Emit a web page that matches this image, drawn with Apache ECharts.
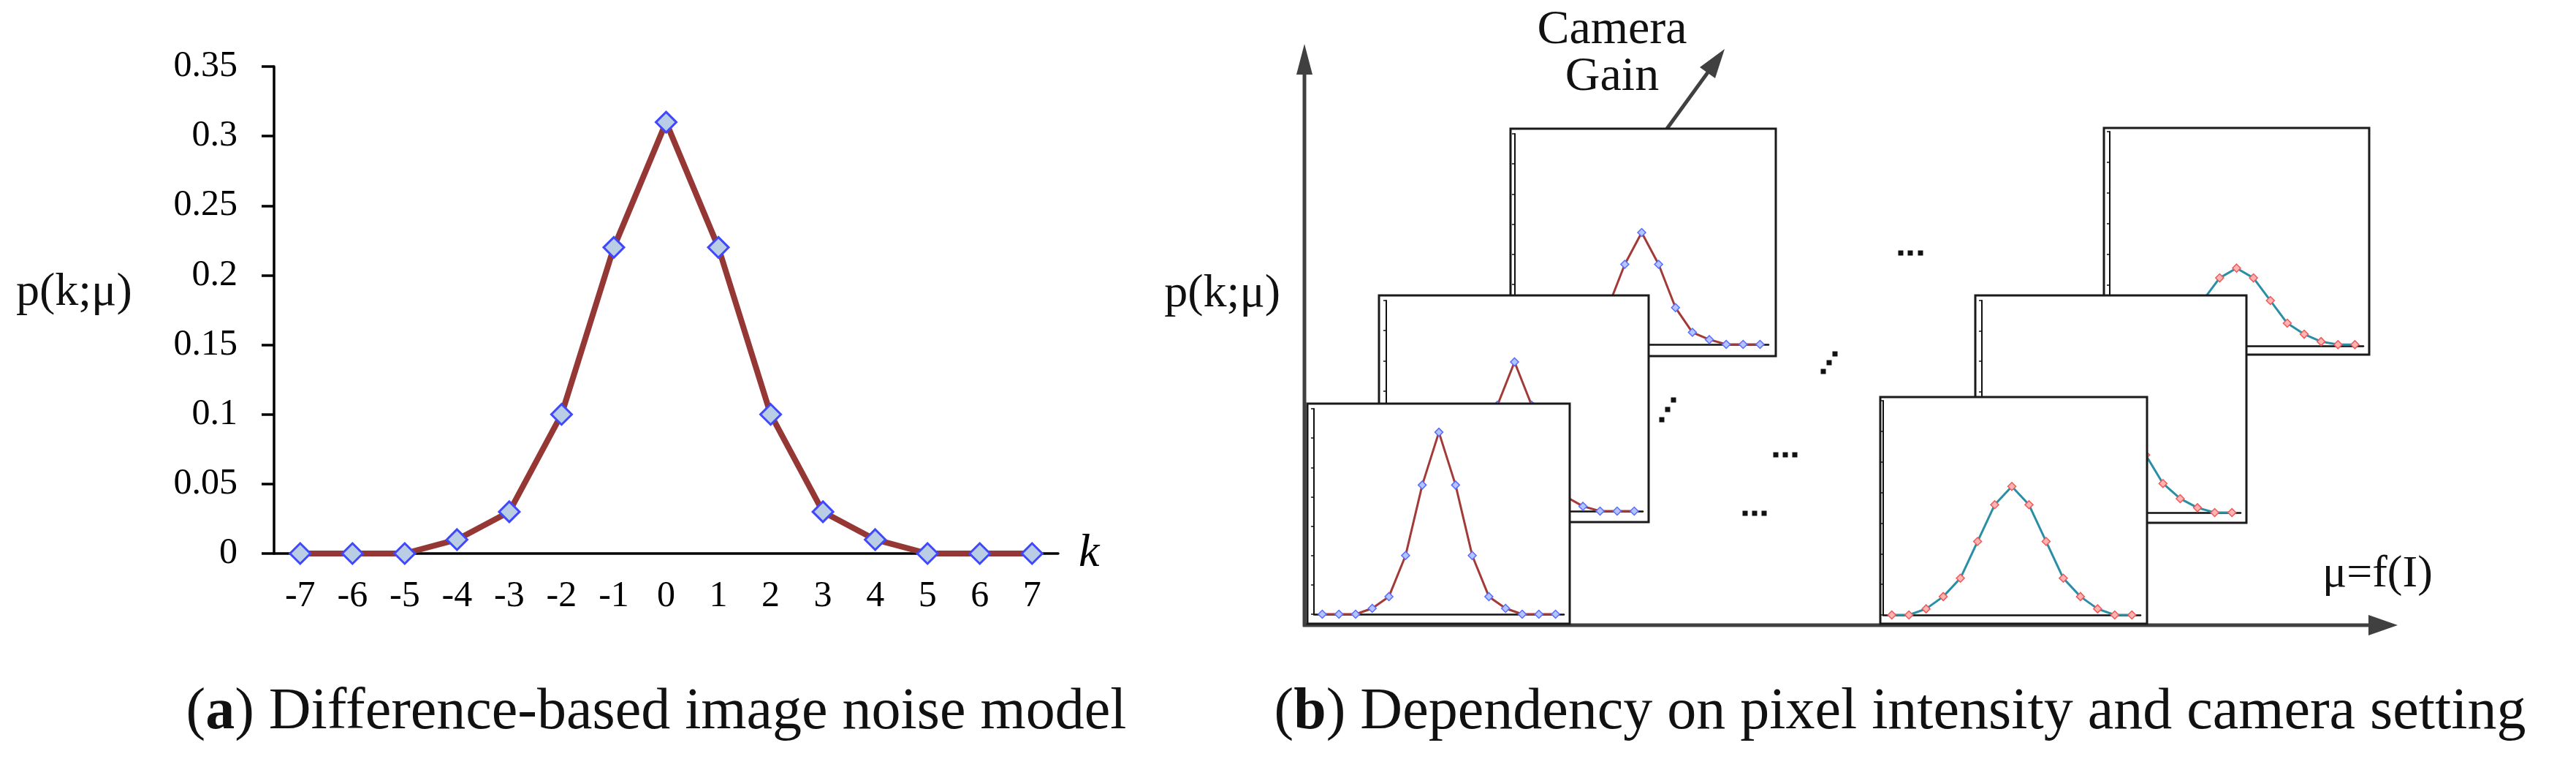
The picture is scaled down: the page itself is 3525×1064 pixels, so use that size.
<!DOCTYPE html>
<html><head><meta charset="utf-8">
<script src="https://cdn.jsdelivr.net/npm/echarts@6/dist/echarts.min.js"></script>
<style>html,body{margin:0;padding:0;background:#fff}#c{width:3525px;height:1064px}</style>
</head><body><div id="c"></div>
<script>
// ---------- data ----------
const kCategories = ['-7','-6','-5','-4','-3','-2','-1','0','1','2','3','4','5','6','7'];
const yTickLabels = ['0','0.05','0.1','0.15','0.2','0.25','0.3','0.35'];
// panel (a)
const pMain = [0,0,0,0.01,0.03,0.1,0.22,0.31,0.22,0.1,0.03,0.01,0,0,0];
// panel (b) – low intensity stack (red curves), gain 1 (front) .. gain 3 (back)
const pLowGain1 = [0,0,0,0.01,0.03,0.1,0.22,0.31,0.22,0.1,0.03,0.01,0,0,0];
const pLowGain2 = [0,0,0,0.008,0.024,0.08,0.176,0.248,0.176,0.08,0.024,0.008,0,0,0];
const pLowGain3 = [0,0,0,0.008,0.02,0.061,0.133,0.186,0.133,0.061,0.02,0.008,0,0,0];
// panel (b) – high intensity stack (teal curves)
const pHighGain1 = [0,0,0.01,0.03,0.06,0.12,0.18,0.21,0.18,0.12,0.06,0.03,0.01,0,0];
const pHighGain2 = [0,0,0.008,0.023,0.048,0.095,0.14,0.165,0.14,0.095,0.048,0.023,0.008,0,0];
const pHighGain3 = [0.002,0.002,0.007,0.019,0.037,0.074,0.111,0.127,0.111,0.074,0.037,0.019,0.007,0.002,0.002];

// ---------- layout / style ----------
const FONT = 'Liberation Serif';
const RED = {line:'#a33a38', fill:'#b4c4ff', border:'#5a6cff'};
const TEAL = {line:'#2a8ea4', fill:'#ffb4b4', border:'#ee5a5a'};
const minis = [
  {data:pLowGain3,  frame:[2067,176,2430,487], plot:[2073,183,2420,471], col:RED,  layer:1},
  {data:pHighGain3, frame:[2879,175,3242,485], plot:[2887,180,3234,473], col:TEAL, layer:1},
  {data:pLowGain2,  frame:[1887,404,2256,714], plot:[1897,411,2248,699], col:RED,  layer:2},
  {data:pHighGain2, frame:[2703,404,3074,715], plot:[2712,411,3066,701], col:TEAL, layer:2},
  {data:pLowGain1,  frame:[1789,552,2148,853], plot:[1798,559,2140,840], col:RED,  layer:3},
  {data:pHighGain1, frame:[2573,543,2938,853], plot:[2577,548,2929,841], col:TEAL, layer:3}
];

const grid = [{left:375, top:91, width:1073, height:666}];
const xAxis = [{
  type:'category', gridIndex:0, data:kCategories, boundaryGap:true,
  axisLine:{lineStyle:{color:'#000', width:3.5}},
  axisTick:{length:16, lineStyle:{color:'#000', width:3.5}},
  axisLabel:{margin:34, interval:0, fontFamily:FONT, fontSize:50, color:'#000'},
  name:'k', nameLocation:'end', nameGap:28,
  nameTextStyle:{fontFamily:FONT, fontStyle:'italic', fontSize:64, color:'#000', verticalAlign:'middle', align:'left'}
}];
const yAxis = [{
  type:'value', gridIndex:0, min:0, max:0.35, interval:0.05,
  splitLine:{show:false},
  axisLine:{show:true, lineStyle:{color:'#000', width:3.5}},
  axisTick:{show:true, length:17, lineStyle:{color:'#000', width:3.5}},
  axisLabel:{margin:50, fontFamily:FONT, fontSize:50, color:'#000',
    formatter:(v)=>yTickLabels[Math.round(v/0.05)]}
}];
const series = [{
  type:'line', xAxisIndex:0, yAxisIndex:0, data:pMain, clip:false,
  symbol:'diamond', symbolSize:28,
  lineStyle:{color:'#953735', width:8},
  itemStyle:{color:'#b9cde5', borderColor:'#3f48ff', borderWidth:3}
}];
const graphic = [];

// big axes of panel (b)
const AX = '#404040';
graphic.push({type:'line', z:5, shape:{x1:1785,y1:857,x2:1785,y2:98}, style:{stroke:AX, lineWidth:5}});
graphic.push({type:'polygon', z:5, shape:{points:[[1785,60],[1774,102],[1796,102]]}, style:{fill:AX}});
graphic.push({type:'line', z:5, shape:{x1:1783,y1:855,x2:3243,y2:855}, style:{stroke:AX, lineWidth:5}});
graphic.push({type:'polygon', z:5, shape:{points:[[3281,855],[3241,841],[3241,869]]}, style:{fill:AX}});
// camera gain arrow
graphic.push({type:'line', z:5, shape:{x1:2281,y1:176,x2:2337,y2:99}, style:{stroke:AX, lineWidth:5}});
graphic.push({type:'polygon', z:5, shape:{points:[[2360,67],[2347,107],[2326,92]]}, style:{fill:AX}});

minis.forEach((m, i) => {
  const gi = i + 1, base = m.layer * 10;
  const [px1,py1,px2,py2] = m.plot, [fx1,fy1,fx2,fy2] = m.frame;
  grid.push({left:px1, top:py1, width:px2-px1, height:py2-py1});
  graphic.push({type:'rect', z:base, shape:{x:fx1,y:fy1,width:fx2-fx1,height:fy2-fy1},
    style:{fill:'#fff', stroke:'#1a1a1a', lineWidth:3}});
  xAxis.push({type:'category', gridIndex:gi, data:kCategories, boundaryGap:true, z:base+1,
    axisLine:{lineStyle:{color:'#111', width:2.5}},
    axisTick:{length:5, lineStyle:{color:'#111', width:1.5}},
    axisLabel:{show:false}});
  yAxis.push({type:'value', gridIndex:gi, min:0, max:0.35, interval:0.05, z:base+1,
    splitLine:{show:false},
    axisLine:{show:true, lineStyle:{color:'#111', width:2}},
    axisTick:{show:true, length:4, lineStyle:{color:'#111', width:1.5}},
    axisLabel:{show:false}});
  series.push({type:'line', xAxisIndex:gi, yAxisIndex:gi, data:m.data, z:base+2, clip:false,
    symbol:'diamond', symbolSize:11,
    lineStyle:{color:m.col.line, width:3},
    itemStyle:{color:m.col.fill, borderColor:m.col.border, borderWidth:1.5}});
});

// ellipsis dots
const dotSets = [
  [[2601,346],[2614,346],[2628,346]],
  [[2430,622],[2443,622],[2456,622]],
  [[2388,702],[2401,702],[2414,702]],
  [[2495,508],[2503,496],[2511,484]],
  [[2274,574],[2282,560],[2290,547]]
];
dotSets.forEach(s => s.forEach(([x,y]) => graphic.push({type:'rect', z:50,
  shape:{x:x-3.5,y:y-3.5,width:7,height:7}, style:{fill:'#111'}})));

// texts
const txt = (x, y, text, size, align) => ({type:'text', z:60, x, y,
  style:{text, fill:'#111', font:`${size}px "${FONT}"`, textAlign:align, textVerticalAlign:'middle'}});
graphic.push(txt(22, 400, 'p(k;μ)', 64, 'left'));
graphic.push(txt(1752, 402, 'p(k;μ)', 64, 'right'));
graphic.push(txt(2206, 42, 'Camera', 66, 'center'));
graphic.push(txt(2206, 106, 'Gain', 66, 'center'));
graphic.push(txt(3178, 786, 'μ=f(I)', 62, 'left'));
graphic.push({type:'text', z:60, x:898, y:975, style:{
  text:'({b|a}) Difference-based image noise model', font:`80px "${FONT}"`, fill:'#111',
  textAlign:'center', textVerticalAlign:'middle',
  rich:{b:{fontWeight:'bold', fontSize:80, fontFamily:FONT, fill:'#111'}}}});
graphic.push({type:'text', z:60, x:2600, y:975, style:{
  text:'({b|b}) Dependency on pixel intensity and camera setting', font:`80px "${FONT}"`, fill:'#111',
  textAlign:'center', textVerticalAlign:'middle',
  rich:{b:{fontWeight:'bold', fontSize:80, fontFamily:FONT, fill:'#111'}}}});

const chart = echarts.init(document.getElementById('c'), null, {renderer:'canvas'});
chart.setOption({animation:false, backgroundColor:'#fff', grid, xAxis, yAxis, series, graphic});
</script></body></html>
